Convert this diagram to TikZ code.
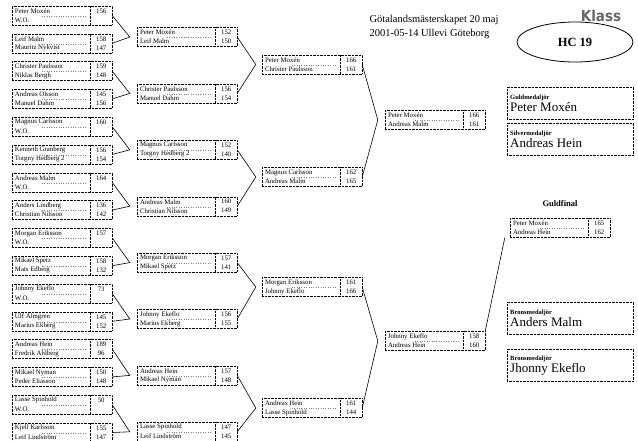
\documentclass[tikz,border=0pt]{standalone}
\usepackage{fontspec}
\setmainfont{Liberation Serif}
\newfontfamily\klassfont{DejaVu Sans Condensed}
\usepackage{tikz}
\usetikzlibrary{shapes.geometric}

\tikzset{
	matchbox/.style={draw, densely dotted, minimum width=100pt, minimum height=19pt, inner sep=0pt},
	player/.style={font=\fontsize{6.8}{7.5}\selectfont, inner sep=0pt, anchor=west},
	score/.style={font=\fontsize{6.8}{7.5}\selectfont, inner sep=0pt},
	medalbox/.style={draw, densely dotted, anchor=north west, text width=120pt, minimum height=32pt, inner sep=3pt, align=left},
}

% one match: name, x, y, player 1, score 1, player 2, score 2
\newcommand{\match}[7]{%
	\node[matchbox] (#1) at (#2,#3) {};
	\draw[densely dotted] ([xshift=-22pt]#1.north east) -- ([xshift=-22pt]#1.south east);
	\draw[dotted, gray] ([xshift=30pt,yshift=-0.5pt]#1.west) -- ([xshift=-25pt,yshift=-0.5pt]#1.east);
	\node[player] (#1p) at ([xshift=3pt,yshift=4.5pt]#1.west) {#4};
	\node[player] (#1q) at ([xshift=3pt,yshift=-4.5pt]#1.west) {#6};
	\node[score] (#1s) at ([xshift=-11pt,yshift=4.5pt]#1.east) {#5};
	\node[score] (#1t) at ([xshift=-11pt,yshift=-4.5pt]#1.east) {#7};
}

\begin{document}
\begin{tikzpicture}[x=1pt,y=-1pt]
	\useasboundingbox (0,0) rectangle (638,440);
	%
	\match{a1}{62}{15.5}{Peter Moxén}{156}{W.O.}{}
	\match{a2}{62}{43.3}{Leif Malm}{158}{Mauritz Nykvist}{147}
	\match{a3}{62}{71.1}{Christer Paulsson}{159}{Niklas Bergh}{148}
	\match{a4}{62}{98.9}{Andreas Olsson}{145}{Manuel Dahm}{156}
	\match{a5}{62}{126.7}{Magnus Carlsson}{160}{W.O.}{}
	\match{a6}{62}{154.5}{Kenneth Granberg}{156}{Torgny Hedberg 2}{154}
	\match{a7}{62}{182.3}{Andreas Malm}{164}{W.O.}{}
	\match{a8}{62}{210.1}{Anders Lindberg}{136}{Christian Nilsson}{142}
	\match{a9}{62}{237.9}{Morgan Eriksson}{157}{W.O.}{}
	\match{a10}{62}{265.7}{Mikael Spetz}{158}{Mats Edberg}{132}
	\match{a11}{62}{293.5}{Johnny Ekeflo}{73}{W.O.}{}
	\match{a12}{62}{321.3}{Ulf Almgren}{145}{Marius Ekberg}{152}
	\match{a13}{62}{349.1}{Andreas Hein}{189}{Fredrik Ahlberg}{96}
	\match{a14}{62}{376.9}{Mikael Nyman}{150}{Peder Eliasson}{148}
	\match{a15}{62}{404.7}{Lasse Spinhold}{50}{W.O.}{}
	\match{a16}{62}{432.5}{Kjell Karlsson}{155}{Leif Lindström}{147}
	%
	\match{b1}{187}{37}{Peter Moxén}{152}{Leif Malm}{150}
	\match{b2}{187}{93.4}{Christer Paulsson}{156}{Manuel Dahm}{154}
	\match{b3}{187}{149.8}{Magnus Carlsson}{152}{Torgny Hedberg 2}{140}
	\match{b4}{187}{206.2}{Andreas Malm}{160}{Christian Nilsson}{149}
	\match{b5}{187}{262.6}{Morgan Eriksson}{157}{Mikael Spetz}{141}
	\match{b6}{187}{319}{Johnny Ekeflo}{156}{Marius Ekberg}{155}
	\match{b7}{187}{375.4}{Andreas Hein}{157}{Mikael Nyman}{148}
	\match{b8}{187}{431.8}{Lasse Spinhold}{147}{Leif Lindström}{145}
	%
	\match{c1}{312}{64.5}{Peter Moxén}{166}{Christer Paulsson}{161}
	\match{c2}{312}{177}{Magnus Carlsson}{162}{Andreas Malm}{165}
	\match{c3}{312}{287}{Morgan Eriksson}{161}{Johnny Ekeflo}{166}
	\match{c4}{312}{408}{Andreas Hein}{161}{Lasse Spinhold}{144}
	%
	\match{d1}{435}{120}{Peter Moxén}{166}{Andreas Malm}{161}
	\match{d2}{435}{341}{Johnny Ekeflo}{158}{Andreas Hein}{160}
	%
	\match{fin}{560}{228}{Peter Moxén}{165}{Andreas Hein}{162}
	%
	\path[draw, line width=0.6pt]
	(a1.east) -- ([xshift=-7pt]b1.west) -- (a2.east)
	(a3.east) -- ([xshift=-7pt]b2.west) -- (a4.east)
	(a5.east) -- ([xshift=-7pt]b3.west) -- (a6.east)
	(a7.east) -- ([xshift=-7pt]b4.west) -- (a8.east)
	(a9.east) -- ([xshift=-7pt]b5.west) -- (a10.east)
	(a11.east) -- ([xshift=-7pt]b6.west) -- (a12.east)
	(a13.east) -- ([xshift=-7pt]b7.west) -- (a14.east)
	(a15.east) -- ([xshift=-7pt]b8.west) -- (a16.east)
	(b1.east) -- ([xshift=-6pt]c1.west) -- (b2.east)
	(b3.east) -- ([xshift=-6pt]c2.west) -- (b4.east)
	(b5.east) -- ([xshift=-6pt]c3.west) -- (b6.east)
	(b7.east) -- ([xshift=-6pt]c4.west) -- (b8.east)
	(c1.east) -- ([xshift=-7pt]d1.west) -- (c2.east)
	(c3.east) -- ([xshift=-7pt]d2.west) -- (c4.east)
	(d2.north east) -- ([xshift=-5pt]fin.south west);
	%
	\node[anchor=west, align=left, font=\fontsize{10.5}{14}\selectfont] (title) at (366,27) {Götalandsmästerskapet 20 maj\\2001-05-14 Ullevi Göteborg};
	\node[font=\klassfont\bfseries\fontsize{15}{16}\selectfont, text=black!60] (klass) at (601,16) {Klass};
	\node[ellipse, draw, line width=0.8pt, minimum width=116pt, minimum height=40pt, font=\bfseries\fontsize{12.5}{14}\selectfont] (hc) at (575,42) {HC 19};
	%
	\node[medalbox] (gold) at (507,87) {{\bfseries\fontsize{6.5}{7.5}\selectfont Guldmedaljör}\\{\fontsize{13}{14}\selectfont Peter Moxén}};
	\node[medalbox] (silver) at (507,123) {{\bfseries\fontsize{6.5}{7.5}\selectfont Silvermedaljör}\\{\fontsize{13}{14}\selectfont Andreas Hein}};
	\node[font=\bfseries\fontsize{8.5}{10}\selectfont] (guldfinal) at (560,204) {Guldfinal};
	\node[medalbox] (brons1) at (507,302) {{\bfseries\fontsize{6.5}{7.5}\selectfont Bronsmedaljör}\\{\fontsize{13}{14}\selectfont Anders Malm}};
	\node[medalbox] (brons2) at (507,349) {{\bfseries\fontsize{6.5}{7.5}\selectfont Bronsmedaljör}\\{\fontsize{13}{14}\selectfont Jhonny Ekeflo}};
\end{tikzpicture}
\end{document}
